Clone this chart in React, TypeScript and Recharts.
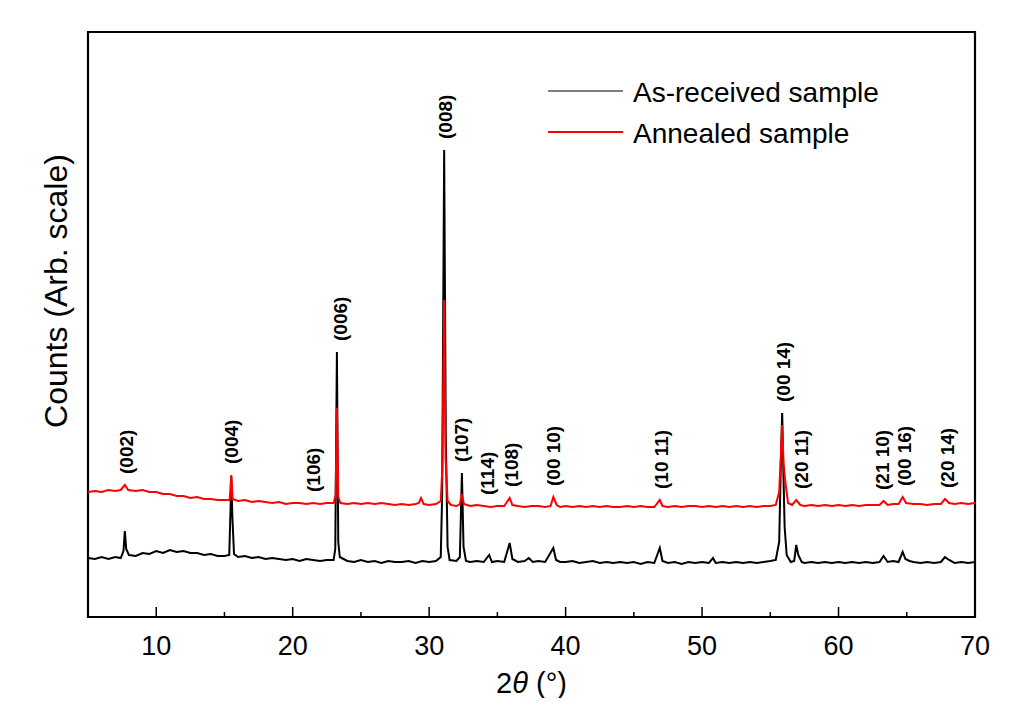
import React from 'react';
import { LineChart, Line, XAxis, YAxis, ReferenceArea, ReferenceDot, Legend } from 'recharts';

const FONT = "'Liberation Sans', Arial, Helvetica, sans-serif";

// 2θ (deg), counts (arb.) — as-received sample
const asReceived: [number, number][] = [
  [5, 59], [5.5, 58], [6, 60], [6.5, 58], [7, 60], [7.4, 59], [7.6, 66], [7.7, 86], [7.8, 68], [8, 62],
  [8.5, 61], [9, 64], [9.5, 63], [10, 66], [10.5, 64], [11, 67], [11.5, 65], [12, 66], [12.5, 64], [13, 64],
  [13.5, 62], [14, 63], [14.5, 61], [15, 61], [15.35, 62], [15.45, 110], [15.5, 140], [15.58, 100], [15.7, 63], [16, 60],
  [16.5, 61], [17, 59], [17.5, 60], [18, 58], [18.5, 59], [19, 58], [19.5, 57], [20, 58], [20.5, 56], [21, 58],
  [21.5, 57], [22, 56], [22.5, 57], [23, 57], [23.12, 68], [23.24, 265], [23.34, 75], [23.45, 60], [24, 56], [24.5, 55],
  [25, 57], [25.5, 55], [26, 56], [26.5, 54], [27, 56], [27.5, 55], [28, 55], [28.5, 56], [29, 54], [29.5, 56],
  [30, 55], [30.5, 56], [30.85, 60], [30.95, 120], [31.1, 467], [31.22, 180], [31.35, 70], [31.5, 57], [32, 56], [32.25, 60],
  [32.4, 144], [32.52, 70], [32.7, 56], [33, 55], [33.5, 56], [34, 55], [34.4, 62], [34.6, 55], [35, 56], [35.5, 55],
  [35.9, 74], [36.1, 58], [36.5, 55], [37, 56], [37.3, 59], [37.6, 55], [38, 56], [38.5, 55], [39.1, 69], [39.3, 57],
  [39.6, 55], [40, 55], [40.5, 56], [41, 54], [41.5, 55], [42, 56], [42.5, 54], [43, 55], [43.5, 54], [44, 55],
  [44.5, 54], [45, 55], [45.5, 53], [46, 55], [46.5, 54], [46.9, 69], [47.1, 56], [47.5, 54], [48, 55], [48.5, 53],
  [49, 55], [49.5, 54], [50, 55], [50.5, 54], [50.8, 59], [51, 54], [51.5, 55], [52, 54], [52.5, 55], [53, 54],
  [53.5, 55], [54, 54], [54.5, 55], [55, 56], [55.4, 57], [55.65, 75], [55.8, 170], [55.87, 204], [55.95, 150], [56.05, 90],
  [56.2, 62], [56.5, 55], [56.75, 56], [56.9, 72], [57.05, 62], [57.3, 55], [57.5, 54], [58, 55], [58.5, 54], [59, 55],
  [59.5, 54], [60, 55], [60.5, 54], [61, 55], [61.5, 54], [62, 55], [62.5, 54], [63, 55], [63.3, 61], [63.6, 55],
  [64, 56], [64.4, 55], [64.7, 65], [64.9, 58], [65.2, 56], [65.5, 55], [66, 54], [66.5, 55], [67, 54], [67.5, 55],
  [67.8, 60], [68.1, 57], [68.5, 54], [69, 55], [69.5, 54], [70, 55],
];

// 2θ (deg), counts (arb.) — annealed sample
const annealed: [number, number][] = [
  [5, 125], [5.5, 126], [6, 125], [6.5, 127], [7, 126], [7.4, 127], [7.7, 132], [7.95, 127], [8.5, 126], [9, 127],
  [9.5, 125], [10, 125], [10.5, 123], [11, 123], [11.5, 121], [12, 121], [12.5, 119], [13, 120], [13.5, 118], [14, 118],
  [14.5, 117], [15, 117], [15.38, 117], [15.5, 142], [15.6, 118], [16, 116], [16.5, 117], [17, 115], [17.5, 116], [18, 115],
  [18.5, 114], [19, 115], [19.5, 113], [20, 114], [20.5, 114], [21, 113], [21.5, 114], [22, 113], [22.5, 114], [23, 114],
  [23.15, 122], [23.24, 209], [23.34, 120], [23.5, 114], [24, 113], [24.5, 114], [25, 113], [25.5, 114], [26, 113], [26.5, 114],
  [27, 113], [27.5, 112], [28, 113], [28.5, 112], [29, 113], [29.25, 114], [29.4, 119], [29.6, 113], [30, 112], [30.5, 113],
  [30.85, 116], [30.97, 150], [31.1, 317], [31.2, 160], [31.35, 116], [31.6, 112], [32, 111], [32.25, 113], [32.4, 123], [32.55, 113],
  [33, 111], [33.5, 112], [34, 111], [34.5, 110], [35, 111], [35.5, 111], [35.9, 119], [36.1, 112], [36.5, 111], [37, 110],
  [37.5, 111], [38, 111], [38.5, 110], [38.9, 111], [39.1, 120], [39.35, 112], [39.6, 110], [40, 111], [40.5, 110], [41, 111],
  [41.5, 110], [42, 111], [42.5, 110], [43, 111], [43.5, 110], [44, 110], [44.5, 111], [45, 110], [45.5, 111], [46, 110],
  [46.5, 110], [46.9, 117], [47.1, 111], [47.5, 110], [48, 111], [48.5, 110], [49, 111], [49.5, 111], [50, 110], [50.5, 111],
  [51, 110], [51.5, 111], [52, 110], [52.5, 111], [53, 110], [53.5, 111], [54, 110], [54.5, 111], [55, 111], [55.4, 112],
  [55.65, 125], [55.8, 170], [55.87, 192], [55.97, 154], [56.1, 135], [56.3, 114], [56.6, 112], [56.9, 117], [57.2, 112], [57.5, 111],
  [58, 112], [58.5, 111], [59, 112], [59.5, 111], [60, 112], [60.5, 111], [61, 112], [61.5, 111], [62, 112], [62.5, 112],
  [63, 112], [63.3, 116], [63.6, 112], [64, 113], [64.4, 113], [64.7, 120], [64.95, 114], [65.5, 113], [66, 113], [66.5, 112],
  [67, 113], [67.5, 113], [67.8, 118], [68.1, 114], [68.5, 113], [69, 114], [69.5, 113], [70, 114],
];

const seriesNames = ['As-received sample', 'Annealed sample'];
const seriesColors = ['#000000', '#ff0000'];

// Miller index annotations and the 2θ where each sits
const peakLabels = ['(002)', '(004)', '(106)', '(006)', '(008)', '(107)', '(114)', '(108)', '(00 10)', '(10 11)', '(00 14)', '(20 11)', '(21 10)', '(00 16)', '(20 14)'];
const peakAngles = [7.8, 15.55, 21.5, 23.5, 31.2, 32.4, 34.3, 36.0, 39.1, 47.0, 56.0, 57.3, 63.2, 64.85, 68.0];

const xTicks = [10, 15, 20, 25, 30, 35, 40, 45, 50, 55, 60, 65, 70];
const xDomain: [number, number] = [5, 70];
const yDomain: [number, number] = [0, 585];

const toRows = (pts: [number, number][]) => pts.map(([x, y]) => ({ x, y }));
const asReceivedRows = toRows(asReceived);
const annealedRows = toRows(annealed);

const labelAnchor = (angle: number) => {
  let m = 0;
  for (const s of [asReceived, annealed]) {
    for (const [x, y] of s) {
      if (Math.abs(x - angle) <= 0.4 && y > m) m = y;
    }
  }
  return m + 11;
};

const XTick = (props: any) => {
  const { x, y, payload } = props;
  const v = payload.value;
  const major = v % 10 === 0;
  return (
    <g>
      <line x1={x} x2={x} y1={y} y2={y - (major ? 10 : 5)} stroke="#000" strokeWidth={1.5} />
      {major && (
        <text x={x} y={y + 38} textAnchor="middle" fontSize={27} fontFamily={FONT} fill="#000">
          {v}
        </text>
      )}
    </g>
  );
};

const XTitle = (props: any) => {
  const vb = props.viewBox || { x: 80, y: 609, width: 887 };
  const cx = vb.x + vb.width / 2;
  return (
    <text x={cx} y={609 + 76} textAnchor="middle" fontSize={29} fontFamily={FONT} fill="#000">
      2<tspan fontStyle="italic">θ</tspan> (°)
    </text>
  );
};

const YTitle = () => {
  const x = 59;
  const y = 283;
  return (
    <text x={x} y={y} transform={`rotate(-90, ${x}, ${y})`} textAnchor="middle" fontSize={32} fontFamily={FONT} fill="#000">
      Counts (Arb. scale)
    </text>
  );
};

const PeakText = (text: string) => (props: any) => {
  const { cx, cy } = props;
  return (
    <text x={cx} y={cy} transform={`rotate(-90, ${cx}, ${cy})`} textAnchor="start" dominantBaseline="central" fontSize={19} fontWeight="bold" fontFamily={FONT} fill="#000">
      {text}
    </text>
  );
};

const LegendBox = () => (
  <svg width={400} height={100} style={{ overflow: 'visible' }}>
    {seriesNames.map((n, i) => (
      <g key={n}>
        <line x1={0} x2={75} y1={21 + i * 41} y2={21 + i * 41} stroke={seriesColors[i]} strokeWidth={i === 0 ? 1.2 : 1.8} />
        <text x={85} y={32 + i * 41} fontSize={28} fontFamily={FONT} fill="#000">
          {n}
        </text>
      </g>
    ))}
  </svg>
);

export default function App() {
  return (
    <LineChart width={1018} height={690} margin={{ top: 24, right: 51, bottom: 41, left: 40 }}>
      <XAxis
        dataKey="x"
        type="number"
        domain={xDomain}
        ticks={xTicks}
        allowDataOverflow
        height={40}
        tickSize={0}
        tickMargin={0}
        tickLine={false}
        axisLine={false}
        tick={<XTick />}
        interval={0}
        label={<XTitle />}
      />
      <YAxis
        type="number"
        domain={yDomain}
        allowDataOverflow
        width={40}
        tick={false}
        tickLine={false}
        axisLine={false}
        label={<YTitle />}
      />
      <ReferenceArea x1={5} x2={70} y1={0} y2={585} fill="none" fillOpacity={0} stroke="#000" strokeWidth={2.2} />
      <Line data={asReceivedRows} dataKey="y" name={seriesNames[0]} type="linear" stroke={seriesColors[0]} strokeWidth={2} dot={false} isAnimationActive={false} />
      <Line data={annealedRows} dataKey="y" name={seriesNames[1]} type="linear" stroke={seriesColors[1]} strokeWidth={2} dot={false} isAnimationActive={false} />
      {peakLabels.map((t, i) => (
        <ReferenceDot key={t} x={peakAngles[i]} y={labelAnchor(peakAngles[i])} r={0} shape={PeakText(t)} />
      ))}
      <Legend
        layout="horizontal"
        verticalAlign="middle"
        align="center"
        wrapperStyle={{ position: 'absolute', left: 540, top: 62, width: 400, height: 100 }}
        content={() => <LegendBox />}
      />
    </LineChart>
  );
}
